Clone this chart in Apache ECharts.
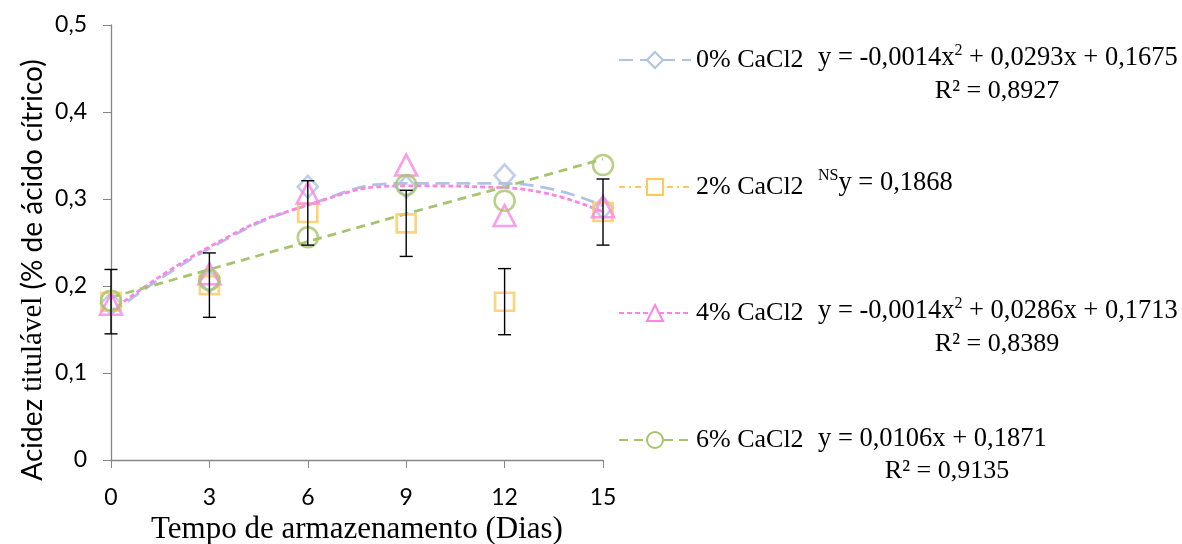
<!DOCTYPE html>
<html lang="pt">
  <head>
    <meta charset="UTF-8" />
    <title>Acidez titulável</title>
    <style>
      html, body { margin: 0; padding: 0; background: #fff; }
      #main { width: 1182px; height: 544px; }
    </style>
  </head>
  <body>
    <div id="main"></div>
    <script src="https://cdn.jsdelivr.net/npm/echarts@6/dist/echarts.min.js"></script>
    <script>
      // dias de armazenamento
      var dias = [0, 3, 6, 9, 12, 15];

      var obs0 = [0.180, 0.205, 0.314, 0.314, 0.327, 0.290];
      var obs2 = [0.182, 0.201, 0.284, 0.272, 0.182, 0.285];
      var obs4 = [0.179, 0.214, 0.307, 0.339, 0.281, 0.291];
      var obs6 = [0.183, 0.207, 0.256, 0.316, 0.298, 0.339];
      // barras de erro (só no 2%)
      var erro2 = [0.037, 0.037, 0.037, 0.038, 0.038, 0.038];

      // linhas de tendência
      var tend0 = [0.168, 0.243, 0.293, 0.318, 0.318, 0.292];
      var tend4 = [0.171, 0.245, 0.293, 0.315, 0.313, 0.285];
      var tend6 = [0.187, 0.219, 0.251, 0.283, 0.314, 0.346];

      var nomes = ["0% CaCl2", "2% CaCl2", "4% CaCl2", "6% CaCl2"];
      var eqs = [
        ["-0,0014x", " + 0,0293x + 0,1675", "R² = 0,8927"],
        null,
        ["-0,0014x", " + 0,0286x + 0,1713", "R² = 0,8389"],
        null,
      ];
      var eqLinear = ["y = 0,0106x + 0,1871", "R² = 0,9135"];
      var eqNS = "y = 0,1868";

      var cores = ["#aec3e5", "#ffc85a", "#fb86e4", "#a7c46c"];
      var serif = "'Liberation Serif', 'Times New Roman', serif";
      var sans = "Lato, 'Open Sans', sans-serif";

      function pares(ys) {
        return ys.map(function (v, i) { return [dias[i], v]; });
      }

      var myChart = echarts.init(document.getElementById("main"));

      function marcador(nome, ys, simbolo, tam, cor) {
        return {
          name: nome + " obs",
          type: "scatter",
          data: pares(ys),
          symbol: simbolo,
          symbolSize: tam,
          itemStyle: { color: "rgba(0,0,0,0)", borderColor: cor, borderWidth: 2.6 },
          z: 4,
        };
      }

      function tendencia(nome, ys, simbolo, cor, tipo, suave) {
        return {
          name: nome,
          type: "line",
          data: pares(ys),
          smooth: suave,
          symbol: simbolo,
          showSymbol: false,
          symbolSize: 16,
          itemStyle: { color: "#fff", borderColor: cor, borderWidth: 2.2 },
          lineStyle: { color: cor, width: 2.8, type: tipo },
          z: 3,
        };
      }

      var traco = {
        d0: [14, 7],
        d2: [6, 4, 2, 4],
        d4: [5, 3],
        d6: [9, 6],
      };

      // barras de erro
      var erros = {
        type: "custom",
        data: obs2.map(function (v, i) { return [dias[i], v, erro2[i]]; }),
        renderItem: function (params, api) {
          var x = api.value(0), y = api.value(1), e = api.value(2);
          var top = api.coord([x, y + e]);
          var bot = api.coord([x, y - e]);
          var w = 6.5;
          var st = { stroke: "#000", lineWidth: 1.4 };
          return {
            type: "group",
            children: [
              { type: "line", shape: { x1: top[0], y1: top[1], x2: bot[0], y2: bot[1] }, style: st },
              { type: "line", shape: { x1: top[0] - w, y1: top[1], x2: top[0] + w, y2: top[1] }, style: st },
              { type: "line", shape: { x1: bot[0] - w, y1: bot[1], x2: bot[0] + w, y2: bot[1] }, style: st },
            ],
          };
        },
        z: 5,
      };

      var legY = [60, 187, 313, 440];
      var legendas = nomes.map(function (n, i) {
        return {
          data: [n],
          orient: "vertical",
          left: 613,
          top: legY[i] - 20,
          itemWidth: 72,
          itemHeight: 20,
          itemGap: 0,
          textStyle: { fontFamily: serif, fontSize: 26, color: "#000", lineHeight: 30 },
          selectedMode: false,
        };
      });

      var eqRich = {
        e: { fontFamily: serif, fontSize: 26.5, color: "#000" },
        s: { fontFamily: serif, fontSize: 16, color: "#000", padding: [0, 0, 14, 0] },
      };

      var textos = [];
      [0, 2].forEach(function (i) {
        textos.push({
          type: "text", left: 818, top: legY[i] - 17,
          style: { text: "{e|y = " + eqs[i][0] + "}{s|2}{e|" + eqs[i][1] + "}", rich: eqRich },
        });
        textos.push({
          type: "text", x: 997, y: legY[i] + 31,
          style: { text: eqs[i][2], fontFamily: serif, fontSize: 26, fill: "#000", textAlign: "center", textVerticalAlign: "middle" },
        });
      });
      textos.push({
        type: "text", left: 818, top: legY[1] - 19,
        style: { text: "{s|NS}{e|" + eqNS + "}", rich: eqRich },
      });
      textos.push({
        type: "text", left: 818, top: legY[3] - 14,
        style: { text: eqLinear[0], fontFamily: serif, fontSize: 26.5, fill: "#000" },
      });
      textos.push({
        type: "text", x: 947, y: legY[3] + 31,
        style: { text: eqLinear[1], fontFamily: serif, fontSize: 26, fill: "#000", textAlign: "center", textVerticalAlign: "middle" },
      });
      // título do eixo y
      textos.push({
        type: "text", x: 33, y: 270, rotation: Math.PI / 2,
        style: {
          text: "{a|Acidez }{b|titulável}{a| (% de ácido cítrico)}",
          textAlign: "center", textVerticalAlign: "middle",
          rich: {
            a: { fontFamily: sans, fontSize: 28, color: "#000" },
            b: { fontFamily: serif, fontSize: 29, color: "#000" },
          },
        },
      });

      var option = {
        animation: false,
        backgroundColor: "#fff",
        grid: { left: 111, right: 579, top: 25, bottom: 84, outerBoundsMode: "none" },
        legend: legendas,
        graphic: textos,
        xAxis: {
          type: "value",
          min: 0,
          max: 15,
          interval: 3,
          name: "Tempo de armazenamento (Dias)",
          nameLocation: "middle",
          nameGap: 51,
          nameTextStyle: { fontFamily: serif, fontSize: 31, color: "#000" },
          axisLine: { lineStyle: { color: "#868686", width: 1.3 } },
          axisTick: { length: 8, lineStyle: { color: "#868686" } },
          axisLabel: { margin: 26, fontFamily: sans, fontSize: 23, color: "#000" },
          splitLine: { show: false },
        },
        yAxis: {
          type: "value",
          min: 0,
          max: 0.5,
          interval: 0.1,
          axisLine: { show: true, lineStyle: { color: "#868686", width: 1.3 } },
          axisTick: { show: true, length: 8, lineStyle: { color: "#868686" } },
          axisLabel: {
            margin: 24,
            fontFamily: sans,
            fontSize: 23,
            color: "#000",
            formatter: function (v) { return v === 0 ? "0" : v.toFixed(1).replace(".", ","); },
          },
          splitLine: { show: false },
        },
        series: [
          tendencia(nomes[0], tend0, "diamond", cores[0], traco.d0, 0.5),
          tendencia(nomes[1], [], "rect", cores[1], traco.d2, false),
          tendencia(nomes[2], tend4, "triangle", cores[2], traco.d4, 0.5),
          tendencia(nomes[3], tend6, "circle", cores[3], traco.d6, false),
          marcador(nomes[0], obs0, "diamond", [20, 22], cores[0]),
          marcador(nomes[1], obs2, "rect", [19, 18], cores[1]),
          marcador(nomes[2], obs4, "triangle", [22, 21], cores[2]),
          marcador(nomes[3], obs6, "circle", 20, cores[3]),
          erros,
        ],
      };

      myChart.setOption(option);
    </script>
  </body>
</html>
